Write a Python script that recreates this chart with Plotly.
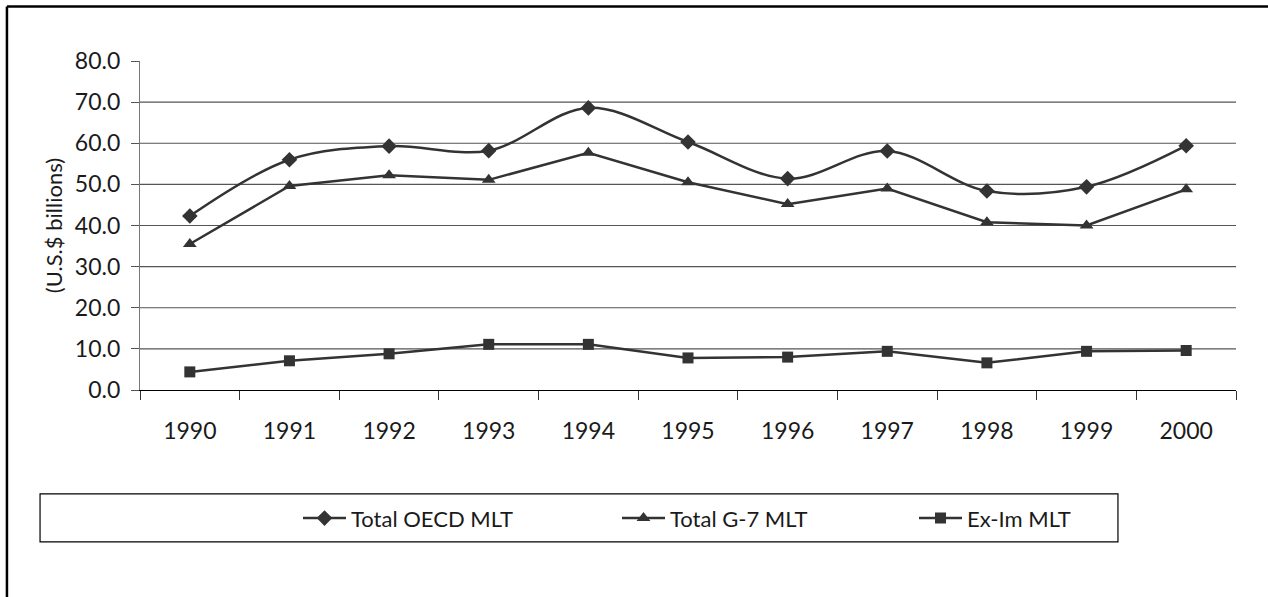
import plotly.graph_objects as go

years = ["1990", "1991", "1992", "1993", "1994", "1995", "1996", "1997", "1998", "1999", "2000"]
oecd = [42.3, 56.0, 59.3, 58.2, 68.6, 60.3, 51.4, 58.1, 48.4, 49.4, 59.4]
g7 = [35.5, 49.6, 52.2, 51.1, 57.7, 50.5, 45.2, 49.0, 40.8, 40.0, 48.8]
exim = [4.4, 7.1, 8.8, 11.1, 11.1, 7.8, 8.0, 9.4, 6.6, 9.4, 9.6]
y_ticks = [0, 10, 20, 30, 40, 50, 60, 70, 80]
grid_vals = [10, 20, 30, 40, 50, 60, 70]

FONT = "Lato"
INK = "#333333"
TXT = "#1a1a1a"

fig = go.Figure()
fig.add_trace(go.Scatter(x=years, y=oecd, name="Total OECD MLT", mode="lines+markers",
                         line=dict(color=INK, width=2.5, shape="spline", smoothing=1.0),
                         marker=dict(symbol="diamond", size=12, color=INK),
                         legend="legend", cliponaxis=False))
fig.add_trace(go.Scatter(x=years, y=g7, name="Total G-7 MLT", mode="lines+markers",
                         line=dict(color=INK, width=2.5),
                         marker=dict(symbol="triangle-up", size=12, color=INK),
                         legend="legend2", cliponaxis=False))
fig.add_trace(go.Scatter(x=years, y=exim, name="Ex-Im MLT", mode="lines+markers",
                         line=dict(color=INK, width=2.5),
                         marker=dict(symbol="square", size=11, color=INK),
                         legend="legend3", cliponaxis=False))

shapes = []
for g in grid_vals:
    shapes.append(dict(type="line", xref="paper", yref="y", x0=0, x1=1, y0=g, y1=g,
                       line=dict(color="#555555", width=1.2), layer="below"))
# outer frame (top and left)
shapes.append(dict(type="line", xref="paper", yref="paper", x0=-0.1214, x1=1.04, y0=1.166, y1=1.166,
                   line=dict(color="black", width=2.5)))
shapes.append(dict(type="line", xref="paper", yref="paper", x0=-0.1214, x1=-0.1214, y0=1.166, y1=-0.64,
                   line=dict(color="black", width=2.5)))
# legend box
shapes.append(dict(type="rect", xref="paper", yref="paper", x0=-0.0912, x1=0.8923, y0=-0.3158, y1=-0.4616,
                   line=dict(color="black", width=1.2)))

leg_common = dict(orientation="h", yanchor="middle", xanchor="left", bgcolor="rgba(0,0,0,0)",
                  borderwidth=0, itemwidth=43, font=dict(family=FONT, size=22, color=TXT))

fig.update_layout(
    width=1268, height=597,
    margin=dict(l=140, r=32, t=61, b=207),
    paper_bgcolor="white", plot_bgcolor="white",
    font=dict(family=FONT, size=22, color=TXT),
    xaxis=dict(type="category", range=[-0.5, 10.5], tickson="boundaries", ticks="outside",
               ticklen=9, tickcolor="#333333", showline=True, linecolor="black", linewidth=1.3,
               showgrid=False, tickfont=dict(family=FONT, size=23, color=TXT), ticklabelstandoff=20),
    yaxis=dict(range=[0, 80], tickvals=y_ticks, ticktext=[f"{v:.1f}" for v in y_ticks],
               ticks="outside", ticklen=8, tickcolor="#555555", showline=True, linecolor="#777777",
               linewidth=1.3, showgrid=False, zeroline=False, ticklabelstandoff=6,
               tickfont=dict(family=FONT, size=23, color=TXT),
               title=dict(text="(U.S.$ billions)", font=dict(family=FONT, size=22, color=TXT), standoff=6)),
    shapes=shapes,
    legend=dict(x=(298 - 140) / 1096, y=-0.390, **leg_common),
    legend2=dict(x=(617 - 140) / 1096, y=-0.390, **leg_common),
    legend3=dict(x=(914 - 140) / 1096, y=-0.390, **leg_common),
    showlegend=True,
)

fig.write_html("out.html", config={"displayModeBar": False},
               post_script="document.body.style.margin='0px';")
